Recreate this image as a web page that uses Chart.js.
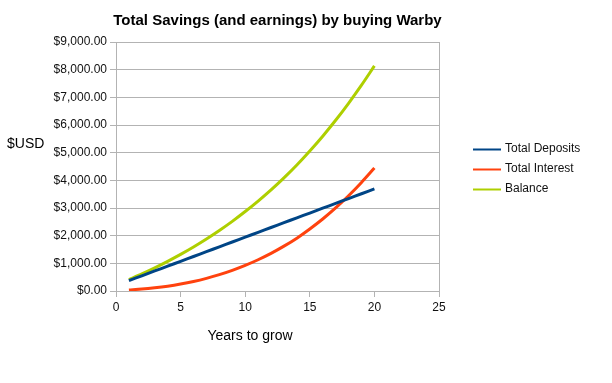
<!DOCTYPE html>
<html>
<head>
<meta charset="utf-8">
<script src="https://cdn.jsdelivr.net/npm/chart.js@4/dist/chart.umd.min.js"></script>
<style>
  html, body { margin: 0; padding: 0; background: #ffffff; }
  #wrap { width: 612px; height: 383px; }
</style>
</head>
<body>
<div id="wrap"><canvas id="c" width="612" height="383"></canvas></div>
<script>
const years = [1,2,3,4,5,6,7,8,9,10,11,12,13,14,15,16,17,18,19,20];
const totalDeposits = [375,550,724,899,1073,1248,1422,1597,1771,1946,2120,2295,2469,2644,2818,2993,3167,3342,3516,3691];
const totalInterest = [40,69,114,173,250,344,458,591,747,926,1130,1360,1621,1911,2242,2602,3003,3443,3924,4444];
const balance = [415,619,838,1072,1323,1592,1880,2188,2518,2872,3250,3655,4090,4555,5060,5595,6170,6785,7440,8135];
const xTicks = [0,5,10,15,20,25];
const yTicks = [0,1000,2000,3000,4000,5000,6000,7000,8000,9000];

const chartTitle = 'Total Savings (and earnings) by buying Warby';
const yTitle = '$USD';
const xTitle = 'Years to grow';
const seriesNames = ['Total Deposits', 'Total Interest', 'Balance'];
const seriesColors = ['#004586', '#ff420e', '#aecf00'];

const FONT = '"Liberation Sans", Arial, sans-serif';
const GRID = '#b3b3b3';

function pts(vals) { return years.map((y, i) => ({ x: y, y: vals[i] })); }

const fmt = v => '$' + v.toLocaleString('en-US', { minimumFractionDigits: 2, maximumFractionDigits: 2 });

const decor = {
  id: 'decor',
  afterDraw(chart) {
    const ctx = chart.ctx;
    const a = chart.chartArea;
    ctx.save();
    // right border of plot
    ctx.strokeStyle = GRID;
    ctx.lineWidth = 1;
    ctx.beginPath();
    ctx.moveTo(Math.round(a.right) + 0.5, a.top);
    ctx.lineTo(Math.round(a.right) + 0.5, a.bottom);
    ctx.stroke();
    // title
    ctx.fillStyle = '#000';
    ctx.font = 'bold 15px ' + FONT;
    ctx.textAlign = 'center';
    ctx.textBaseline = 'middle';
    ctx.fillText(chartTitle, (a.left + a.right) / 2, 21);
    // axis titles
    ctx.font = '14px ' + FONT;
    ctx.textAlign = 'left';
    ctx.fillText(yTitle, 7, 144);
    ctx.textAlign = 'center';
    ctx.fillText(xTitle, 250, 336);
    // legend
    ctx.font = '12px ' + FONT;
    ctx.textAlign = 'left';
    seriesNames.forEach((n, i) => {
      const y = 149 + i * 20;
      ctx.strokeStyle = seriesColors[i];
      ctx.lineWidth = 2;
      ctx.beginPath();
      ctx.moveTo(473, y + 0.5);
      ctx.lineTo(501, y + 0.5);
      ctx.stroke();
      ctx.fillStyle = '#111';
      ctx.fillText(n, 505, y);
    });
    ctx.restore();
  }
};

new Chart(document.getElementById('c'), {
  type: 'line',
  data: {
    datasets: seriesNames.map((n, i) => ({
      label: n,
      data: pts([totalDeposits, totalInterest, balance][i]),
      borderColor: seriesColors[i],
      backgroundColor: seriesColors[i],
      borderWidth: 3,
      pointRadius: 0,
      tension: 0.3,
      fill: false
    }))
  },
  options: {
    responsive: false,
    animation: false,
    devicePixelRatio: 1,
    layout: { padding: { left: 0, right: 173, top: 42, bottom: 62 } },
    plugins: {
      legend: { display: false },
      title: { display: false },
      tooltip: { enabled: false }
    },
    scales: {
      x: {
        type: 'linear',
        min: 0, max: 25,
        afterBuildTicks: s => { s.ticks = xTicks.map(v => ({ value: v })); },
        afterFit: s => { s.height = 30; },
        ticks: { font: { family: FONT, size: 12 }, color: '#111', padding: 3, maxRotation: 0 },
        grid: { drawOnChartArea: false, drawTicks: true, tickLength: 6, color: GRID },
        border: { color: GRID }
      },
      y: {
        min: 0, max: 9000,
        afterBuildTicks: s => { s.ticks = yTicks.map(v => ({ value: v })); },
        afterFit: s => { s.width = 116; },
        ticks: { font: { family: FONT, size: 12 }, color: '#111', padding: 3, callback: v => fmt(v) },
        grid: { color: GRID, tickLength: 6 },
        border: { color: GRID }
      }
    }
  },
  plugins: [decor]
});
</script>
</body>
</html>
